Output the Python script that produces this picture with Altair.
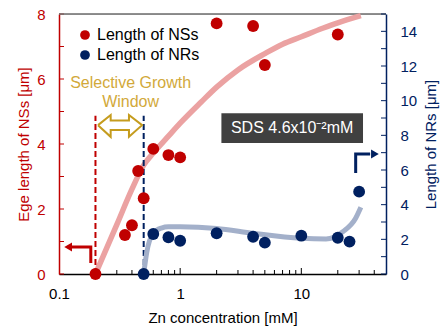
import altair as alt
import pandas as pd

RED = "#c00000"
NAVY = "#002060"
PINK = "#eba2a2"
LBLUE = "#a3b0ca"
GOLD_T = "#d2a93a"
GOLD_A = "#c59c1e"
FONT = "Liberation Sans"

# ---- measured data ----
ns_conc = [0.2, 0.35, 0.4, 0.45, 0.5, 0.6, 0.8, 1.0, 2.0, 4.0, 5.0, 20.0]
ns_len = [0.0, 1.2, 1.5, 3.17, 2.33, 3.85, 3.66, 3.59, 7.71, 7.63, 6.43, 7.37]
nr_conc = [0.5, 0.6, 0.8, 1.0, 2.0, 4.0, 5.0, 10.0, 20.0, 25.0, 30.0]
nr_len = [0.0, 2.31, 2.12, 1.92, 2.35, 2.15, 1.81, 2.21, 2.09, 1.87, 4.75]

# guide-to-the-eye curves
ns_fit_conc = [0.2, 0.3, 0.4, 0.5, 0.6, 0.8, 1.0, 1.5, 2.0, 3.0, 5.0, 7.0, 10.0, 15.0, 20.0, 31.0]
ns_fit_len = [0.0, 1.52, 2.61, 3.35, 3.72, 4.24, 4.64, 5.3, 5.75, 6.28, 6.78, 7.07, 7.3, 7.56, 7.73, 7.95]
nr_fit_conc = [0.5, 0.53, 0.6, 0.7, 0.8, 1.0, 2.0, 4.0, 10.0, 16.0, 22.0, 28.0, 31.0]
nr_fit_len = [0.0, 1.25, 2.35, 2.65, 2.72, 2.72, 2.63, 2.35, 2.06, 2.02, 2.44, 3.2, 3.85]

# axis ticks
x_labels = [0.1, 1, 10]
x_major = [1, 10]
x_minor = [0.2, 0.3, 0.4, 0.5, 0.6, 0.7, 0.8, 0.9, 2, 3, 4, 5, 6, 7, 8, 9, 20, 30, 40]
left_ticks = [0, 1, 2, 3, 4, 5, 6, 7, 8]
right_ticks = list(range(0, 16))

# annotations (data coordinates)
red_dash = {"x": [0.2], "y": [0.0], "y2": [4.87]}
blue_dash = {"x": [0.5], "y": [0.0], "y2": [4.87]}
win_text_x = [0.39, 0.39]
win_text_y = [5.88, 5.29]
win_text = ["Selective Growth", "Window"]
win_arrow_x = [0.21, 0.267, 0.267, 0.378, 0.378, 0.485, 0.378, 0.378, 0.267, 0.267, 0.21]
win_arrow_y = [4.58, 4.89, 4.72, 4.72, 4.89, 4.58, 4.22, 4.43, 4.43, 4.22, 4.58]
red_arrow_x = [0.183, 0.183, 0.128]
red_arrow_y = [0.34, 0.83, 0.83]
red_head = (0.119, 0.83)
blue_arrow_x = [28.1, 28.1, 37.0]
blue_arrow_y = [5.83, 6.92, 6.92]
blue_head = (40.5, 6.92)
sds_box = {"x": [2.19], "x2": [32.3], "y": [4.03], "y2": [4.95]}
sds_text = {"x": [8.4], "y": [4.49], "t": ["SDS 4.6x10\u207b\u00b2mM"]}

W, H = 327, 260

xscale = alt.Scale(type="log", domain=[0.1, 50], nice=False)
xaxis = alt.Axis(values=x_labels, format="~g", ticks=False, grid=False,
                 domainColor="black", domainWidth=1.5, labelColor="black",
                 labelFontSize=15, labelFont=FONT, labelPadding=12, labelFlush=False,
                 labelOverlap=False, title="Zn concentration [mM]", titleFont=FONT,
                 titleFontSize=15, titleFontWeight="normal", titleColor="black",
                 titleX=W / 2, titleY=43, titleBaseline="middle", titleAlign="center")


def X(field="x"):
    return alt.X(f"{field}:Q", scale=xscale, axis=xaxis)


lscale = alt.Scale(domain=[0, 8], nice=False, zero=True)
laxis = alt.Axis(orient="left", values=[0, 2, 4, 6, 8], ticks=False, grid=False,
                 domainColor=RED, domainWidth=1.5, labelColor=RED, labelFontSize=15,
                 labelFont=FONT, labelPadding=14, labelFlush=False,
                 title="Ege length of NSs [\u03bcm]", titleColor=RED, titleFont=FONT,
                 titleFontSize=15, titleFontWeight="normal", titleAngle=270,
                 titleX=-36, titleY=H / 2, titleAlign="center", titleBaseline="middle")

rscale = alt.Scale(domain=[0, 15], nice=False, zero=True)
raxis = alt.Axis(orient="right", values=list(range(0, 16, 2)), ticks=False, grid=False,
                 domainColor=NAVY, domainWidth=1.5, labelColor=NAVY, labelFontSize=15,
                 labelFont=FONT, labelPadding=14, labelFlush=False,
                 title="Length of NRs [\u03bcm]", titleColor=NAVY, titleFont=FONT,
                 titleFontSize=15, titleFontWeight="normal", titleAngle=270,
                 titleX=44, titleY=H / 2, titleAlign="center", titleBaseline="middle")


def YL(field="y"):
    return alt.Y(f"{field}:Q", scale=lscale, axis=laxis)


def YR(field="y"):
    return alt.Y(f"{field}:Q", scale=rscale, axis=raxis)


series_scale = alt.Scale(domain=["Length of NSs", "Length of NRs"], range=[RED, NAVY])
legend = alt.Legend(orient="none", legendX=18, legendY=13, title=None, symbolType="circle",
                    symbolSize=95, symbolStrokeWidth=0, labelFontSize=16, labelFont=FONT,
                    labelColor="black", rowPadding=4, labelOffset=4, padding=0)

# ---- dataframes ----
ns_df = pd.DataFrame({"x": ns_conc, "y": ns_len, "s": "Length of NSs"})
nr_df = pd.DataFrame({"x": nr_conc, "y": nr_len, "s": "Length of NRs"})
ns_fit = pd.DataFrame({"x": ns_fit_conc, "y": ns_fit_len})
nr_fit = pd.DataFrame({"x": nr_fit_conc, "y": nr_fit_len})

# ---- left group ----
lt_df = pd.DataFrame({"y": left_ticks})
left_ticks_l = alt.Chart(lt_df).mark_rule(color=RED, strokeWidth=1).encode(
    y=YL(), x=alt.value(0), x2=alt.value(5))
xmaj_df = pd.DataFrame({"x": x_major})
xmin_df = pd.DataFrame({"x": x_minor})
xmaj_l = alt.Chart(xmaj_df).mark_rule(color="black", strokeWidth=1).encode(
    x=X(), y=alt.value(H), y2=alt.value(H - 6))
xmin_l = alt.Chart(xmin_df).mark_rule(color="black", strokeWidth=1).encode(
    x=X(), y=alt.value(H), y2=alt.value(H - 4))
top_border = alt.Chart(pd.DataFrame({"a": [0]})).mark_rule(color="#6b6b6b", strokeWidth=1.5).encode(
    x=alt.value(0), x2=alt.value(W), y=alt.value(0))

ns_fit_l = alt.Chart(ns_fit).mark_line(color=PINK, strokeWidth=5.5, interpolate="monotone",
                                       strokeCap="butt").encode(x=X(), y=YL())
rd = alt.Chart(pd.DataFrame(red_dash)).mark_rule(color=RED, strokeWidth=2, strokeDash=[6, 3]).encode(
    x=X(), y=YL(), y2="y2:Q")
bd = alt.Chart(pd.DataFrame(blue_dash)).mark_rule(color=NAVY, strokeWidth=2, strokeDash=[6, 3]).encode(
    x=X(), y=YL(), y2="y2:Q")
ns_pts = alt.Chart(ns_df).mark_circle(size=140, opacity=1).encode(
    x=X(), y=YL(), color=alt.Color("s:N", scale=series_scale, legend=legend))

win_arrow = alt.Chart(pd.DataFrame({"x": win_arrow_x, "y": win_arrow_y,
                                    "i": list(range(len(win_arrow_x)))})).mark_line(
    color=GOLD_A, strokeWidth=2, strokeJoin="miter").encode(x=X(), y=YL(), order="i:Q")
win_txt = alt.Chart(pd.DataFrame({"x": win_text_x, "y": win_text_y, "t": win_text})).mark_text(
    color=GOLD_T, font=FONT, fontSize=16, align="center", baseline="middle").encode(
    x=X(), y=YL(), text="t:N")
red_arrow = alt.Chart(pd.DataFrame({"x": red_arrow_x, "y": red_arrow_y, "i": [0, 1, 2]})).mark_line(
    color=RED, strokeWidth=3, strokeJoin="miter").encode(x=X(), y=YL(), order="i:Q")
red_arrow_head = alt.Chart(pd.DataFrame({"x": [red_head[0]], "y": [red_head[1]]})).mark_point(
    shape="triangle-left", filled=True, size=80, color=RED, opacity=1).encode(x=X(), y=YL())
sds_rect = alt.Chart(pd.DataFrame(sds_box)).mark_rect(color="#404040").encode(
    x=X(), x2="x2:Q", y=YL(), y2="y2:Q")
sds_txt = alt.Chart(pd.DataFrame(sds_text)).mark_text(
    color="white", font=FONT, fontSize=16, align="center", baseline="middle").encode(
    x=X(), y=YL(), text="t:N")

left = alt.layer(left_ticks_l, xmaj_l, xmin_l, top_border, ns_fit_l, rd, bd, win_arrow, win_txt,
                 red_arrow, red_arrow_head, sds_rect, sds_txt, ns_pts)

# ---- right group ----
rt_df = pd.DataFrame({"y": right_ticks})
right_ticks_l = alt.Chart(rt_df).mark_rule(color=NAVY, strokeWidth=1).encode(
    y=YR(), x=alt.value(W), x2=alt.value(W - 5))
nr_fit_l = alt.Chart(nr_fit).mark_line(color=LBLUE, strokeWidth=5, interpolate="monotone",
                                       strokeCap="butt").encode(x=X(), y=YR())
nr_pts = alt.Chart(nr_df).mark_circle(size=140, opacity=1).encode(
    x=X(), y=YR(), color=alt.Color("s:N", scale=series_scale, legend=legend))
blue_arrow = alt.Chart(pd.DataFrame({"x": blue_arrow_x, "y": blue_arrow_y, "i": [0, 1, 2]})).mark_line(
    color=NAVY, strokeWidth=3, strokeJoin="miter").encode(x=X(), y=YR(), order="i:Q")
blue_arrow_head = alt.Chart(pd.DataFrame({"x": [blue_head[0]], "y": [blue_head[1]]})).mark_point(
    shape="triangle-right", filled=True, size=80, color=NAVY, opacity=1).encode(x=X(), y=YR())

right = alt.layer(right_ticks_l, nr_fit_l, blue_arrow, blue_arrow_head, nr_pts)

chart = alt.layer(left, right).resolve_scale(y="independent").properties(
    width=W, height=H,
    padding={"left": 59, "top": 14, "right": 62, "bottom": 53},
    autosize=alt.AutoSizeParams(type="none"),
    background="white",
).configure_view(stroke=None).configure(font=FONT)

chart.save("out.html", embed_options={"renderer": "svg", "actions": False})
